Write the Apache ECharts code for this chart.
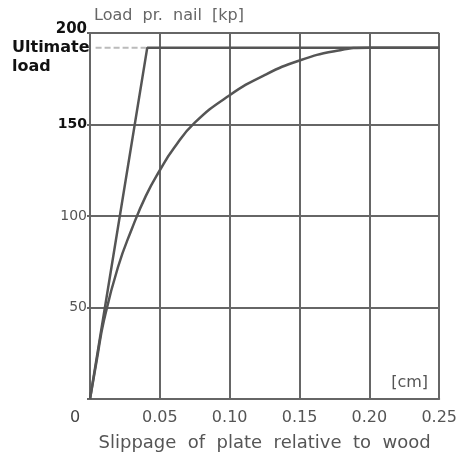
<!DOCTYPE html>
<html>
<head>
<meta charset="utf-8">
<script src="https://cdn.jsdelivr.net/npm/echarts@6/dist/echarts.min.js"></script>
<style>html,body{margin:0;padding:0;background:#fff;}#c{width:460px;height:457px;}</style>
</head>
<body>
<div id="c"></div>
<script>
// Data
var xTicks = [0, 0.05, 0.10, 0.15, 0.20, 0.25];
var yTicks = [0, 50, 100, 150, 200];
var ultimateLoad = 192;
// elastic-plastic idealisation: straight rise then plateau
var idealX = [0, 0.041, 0.25];
var idealY = [0, 192, 192];
// measured load-slip curve
var curveX = [0, 0.005, 0.01, 0.02, 0.03, 0.04, 0.05, 0.06, 0.075, 0.10, 0.125, 0.15, 0.175, 0.20, 0.25];
var curveY = [0, 22, 43, 72, 93, 111, 125, 137, 151, 166, 177, 185, 190, 192, 192];
// faint dashed mark left of the plateau
var dashX = [0.004, 0.040];

var FONT = 'DejaVu Sans';
function pairs(xs, ys) { return xs.map(function (x, i) { return [x, ys[i]]; }); }

var chart = echarts.init(document.getElementById('c'), null, {renderer: 'canvas'});
chart.setOption({
  animation: false,
  backgroundColor: '#fff',
  grid: {left: 90, right: 20, top: 33, bottom: 55, containLabel: false},
  xAxis: {
    type: 'value', min: 0, max: 0.25, interval: 0.05,
    name: 'Slippage  of  plate  relative  to  wood',
    nameLocation: 'middle', nameGap: 35,
    nameTextStyle: {fontFamily: FONT, fontSize: 18, color: '#555'},
    axisLine: {show: true, lineStyle: {color: '#666', width: 2}},
    axisTick: {show: false},
    splitLine: {show: true, lineStyle: {color: '#666', width: 2}},
    axisLabel: {
      margin: 11, fontFamily: FONT, fontSize: 16, color: '#555',
      formatter: function (v) { return v === 0 ? '{z|0}' : v.toFixed(2); },
      rich: {z: {fontFamily: FONT, fontSize: 16, color: '#444', padding: [0, 30, 0, 0]}}
    }
  },
  yAxis: {
    type: 'value', min: 0, max: 200, interval: 50,
    name: 'Load  pr.  nail  [kp]', nameLocation: 'end', nameGap: 9,
    nameTextStyle: {fontFamily: FONT, fontSize: 16, color: '#666', align: 'left', padding: [0, 0, 0, 4]},
    axisLine: {show: true, lineStyle: {color: '#666', width: 2}},
    axisTick: {show: true, length: 3, lineStyle: {color: '#666', width: 2}},
    splitLine: {show: true, lineStyle: {color: '#666', width: 2}},
    axisLabel: {
      margin: 3, fontFamily: FONT, fontSize: 14, color: '#555',
      formatter: function (v) {
        if (v === 0) return '';
        if (v === 200) return '{t|200}';
        if (v === 150) return '{b|150}';
        return String(v);
      },
      rich: {
        t: {fontFamily: FONT, fontSize: 15, fontWeight: 'bold', color: '#111', padding: [0, 0, 8, 0]},
        b: {fontFamily: FONT, fontSize: 14, fontWeight: 'bold', color: '#111'}
      }
    }
  },
  series: [
    {
      type: 'line', data: pairs(dashX, [ultimateLoad, ultimateLoad]), symbol: 'none',
      lineStyle: {color: '#bbb', width: 2, type: [6, 3]}, z: 1
    },
    {
      type: 'line', data: pairs(idealX, idealY), symbol: 'none',
      lineStyle: {color: '#555', width: 2.5}, z: 3
    },
    {
      type: 'line', data: pairs(curveX, curveY), symbol: 'none', smooth: 0.5,
      lineStyle: {color: '#555', width: 2.5}, z: 3
    }
  ],
  graphic: [
    {type: 'text', left: 12, top: 38, style: {text: 'Ultimate\nload', fontFamily: FONT, fontSize: 16, fontWeight: 'bold', fill: '#111', lineHeight: 19}},
    {type: 'text', right: 32, top: 375, style: {text: '[cm]', fontFamily: FONT, fontSize: 16, fill: '#555'}}
  ]
});
</script>
</body>
</html>
